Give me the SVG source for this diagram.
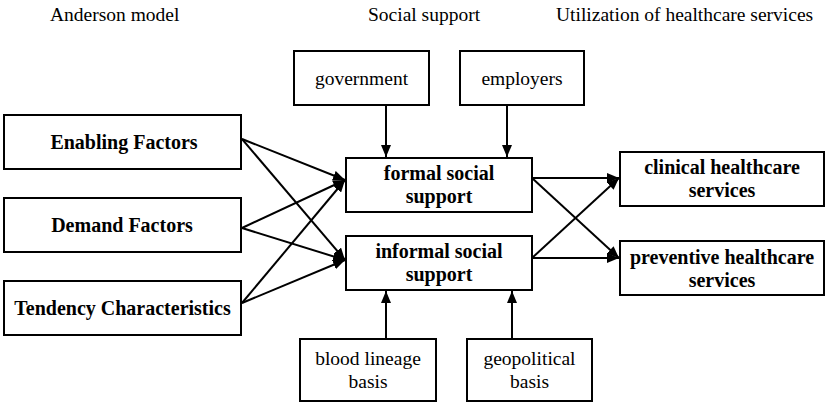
<svg xmlns="http://www.w3.org/2000/svg" width="829" height="406" viewBox="0 0 829 406">
<style>
.box{fill:#fff;stroke:#000;stroke-width:2}
.t{font-family:'Liberation Serif','DejaVu Serif',serif;font-size:19.5px;fill:#000;text-anchor:middle}
.b{font-weight:bold;font-size:20px}
.h{font-family:'Liberation Serif','DejaVu Serif',serif;font-size:19.5px;fill:#000}
.c{stroke:#000;stroke-width:2;fill:none;marker-end:url(#ah)}
</style>
<defs>
<marker id="ah" viewBox="0 0 12 10" refX="12" refY="5" markerWidth="12" markerHeight="10" markerUnits="userSpaceOnUse" orient="auto">
<path d="M0,0 L12,5 L0,10 Z" fill="#000"/>
</marker>
</defs>
<rect width="829" height="406" fill="#fff"/>
<g id="headers">
<text class="h" x="50" y="21">Anderson model</text>
<text class="h" x="368" y="21">Social support</text>
<text class="h" x="556" y="21">Utilization of healthcare services</text>
</g>
<g id="connectors">
<line class="c" x1="242" y1="139" x2="345" y2="180"/>
<line class="c" x1="242" y1="139" x2="345" y2="260"/>
<line class="c" x1="242" y1="228" x2="345" y2="180"/>
<line class="c" x1="242" y1="228" x2="345" y2="260"/>
<line class="c" x1="242" y1="303" x2="345" y2="180"/>
<line class="c" x1="242" y1="303" x2="345" y2="260"/>
<line class="c" x1="386" y1="105" x2="386" y2="157"/>
<line class="c" x1="507" y1="105" x2="507" y2="157"/>
<line class="c" x1="386" y1="339" x2="386" y2="291"/>
<line class="c" x1="512" y1="339" x2="512" y2="291"/>
<line class="c" x1="532" y1="178" x2="619" y2="178"/>
<line class="c" x1="532" y1="178" x2="619" y2="258"/>
<line class="c" x1="532" y1="258" x2="619" y2="258"/>
<line class="c" x1="532" y1="258" x2="619" y2="178"/>
</g>
<g id="enabling">
<rect class="box" x="4" y="115" width="237" height="54"/>
<text class="t b" x="124" y="149">Enabling Factors</text>
</g>
<g id="demand">
<rect class="box" x="4" y="198" width="237" height="54"/>
<text class="t b" x="122" y="232">Demand Factors</text>
</g>
<g id="tendency">
<rect class="box" x="4" y="281" width="237" height="54"/>
<text class="t b" x="122.5" y="315">Tendency Characteristics</text>
</g>
<g id="government">
<rect class="box" x="294" y="51" width="135" height="54"/>
<text class="t" x="361.5" y="85">government</text>
</g>
<g id="employers">
<rect class="box" x="460" y="51" width="124" height="54"/>
<text class="t" x="522" y="85">employers</text>
</g>
<g id="formal">
<rect class="box" x="346" y="158" width="186" height="54"/>
<text class="t b" x="439" y="180">formal social</text>
<text class="t b" x="439" y="203">support</text>
</g>
<g id="informal">
<rect class="box" x="346" y="236" width="186" height="54"/>
<text class="t b" x="439" y="258">informal social</text>
<text class="t b" x="439" y="281">support</text>
</g>
<g id="blood">
<rect class="box" x="300" y="339" width="136" height="62"/>
<text class="t" x="368" y="365">blood lineage</text>
<text class="t" x="368" y="388">basis</text>
</g>
<g id="geopolitical">
<rect class="box" x="467" y="339" width="125" height="62"/>
<text class="t" x="529.5" y="365">geopolitical</text>
<text class="t" x="529.5" y="388">basis</text>
</g>
<g id="clinical">
<rect class="box" x="620" y="152" width="204" height="54"/>
<text class="t b" x="722" y="174">clinical healthcare</text>
<text class="t b" x="722" y="197">services</text>
</g>
<g id="preventive">
<rect class="box" x="620" y="241" width="204" height="54"/>
<text class="t b" x="722" y="264">preventive healthcare</text>
<text class="t b" x="722" y="287">services</text>
</g>
</svg>
